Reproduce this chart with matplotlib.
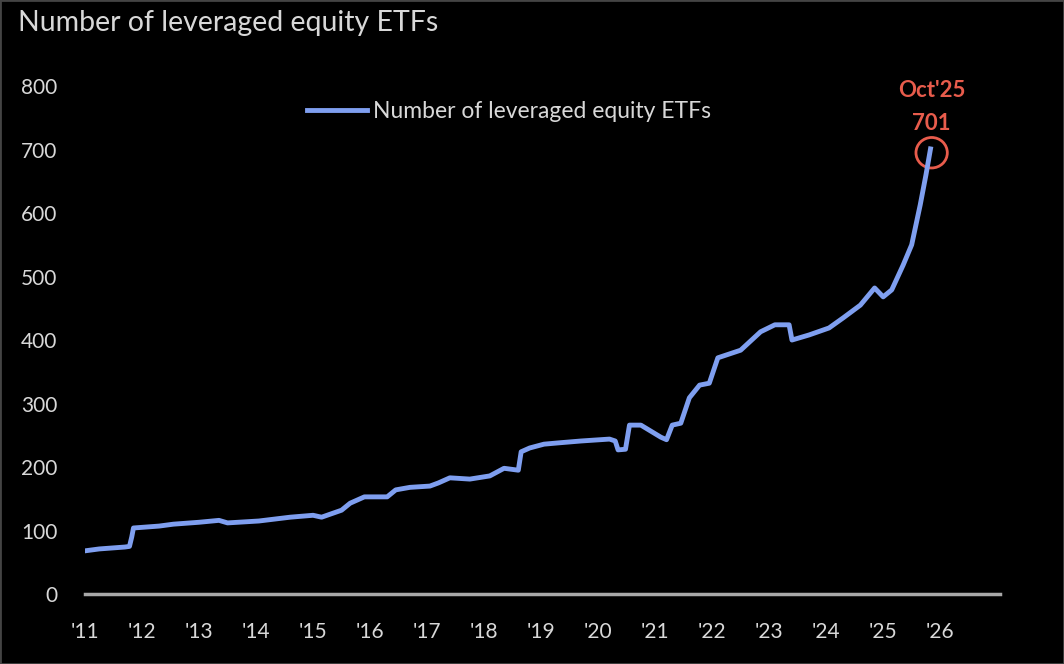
import matplotlib.pyplot as plt
from matplotlib.patches import Ellipse, Rectangle

# Dane (rok dziesiętny, liczba ETF)
lata = [2011.0, 2011.25, 2011.7, 2011.78, 2011.82, 2011.85, 2012.3, 2012.55, 2013.0,
        2013.35, 2013.5, 2014.05, 2014.6, 2015.0, 2015.15, 2015.5, 2015.65, 2015.9,
        2016.3, 2016.45, 2016.7, 2017.05, 2017.2, 2017.4, 2017.75, 2018.1, 2018.35,
        2018.6, 2018.65, 2018.8, 2019.05, 2019.3, 2019.7, 2020.2, 2020.3, 2020.35,
        2020.48, 2020.55, 2020.75, 2021.1, 2021.2, 2021.3, 2021.45, 2021.6, 2021.78,
        2021.95, 2022.1, 2022.5, 2022.85, 2023.1, 2023.35, 2023.4, 2023.7, 2024.05,
        2024.3, 2024.6, 2024.85, 2025.0, 2025.15, 2025.35, 2025.5, 2025.65, 2025.75,
        2025.83]
liczba_etf = [68, 71, 74, 75, 90, 104, 107, 110, 113,
              116, 112, 115, 121, 124, 121, 132, 143, 153,
              153, 164, 168, 170, 175, 183, 181, 186, 198,
              195, 224, 230, 236, 238, 241, 244, 241, 227,
              228, 266, 266, 247, 243, 266, 269, 309, 329,
              332, 372, 384, 413, 424, 424, 400, 408, 419,
              435, 455, 482, 468, 479, 518, 550, 613, 660,
              701]

etykiety_lat = ["'11", "'12", "'13", "'14", "'15", "'16", "'17", "'18",
                "'19", "'20", "'21", "'22", "'23", "'24", "'25", "'26"]
pozycje_lat = list(range(2011, 2027))
wartosci_y = [0, 100, 200, 300, 400, 500, 600, 700, 800]

kolor_linii = "#7f9ff0"
kolor_czerwony = "#e85c4c"
kolor_tekstu = "#d8d8d8"

plt.rcParams["font.family"] = ["Lato", "DejaVu Sans"]

fig = plt.figure(figsize=(10.64, 6.64), dpi=100, facecolor="black")
ax = fig.add_axes([0.0799, 0.1054, 0.86, 0.765])
ax.set_facecolor("black")

ax.plot(lata, liczba_etf, color=kolor_linii, linewidth=3.5,
        label="Number of leveraged equity ETFs", solid_joinstyle="round")

ax.set_xlim(2011, 2027.05)
ax.set_ylim(0, 800)
ax.set_xticks(pozycje_lat)
ax.set_xticklabels(etykiety_lat)
ax.set_yticks(wartosci_y)
ax.tick_params(axis="both", length=0, colors=kolor_tekstu, labelsize=15)
ax.tick_params(axis="y", pad=20)
ax.tick_params(axis="x", pad=20)

for s in ["top", "right", "left"]:
    ax.spines[s].set_visible(False)
ax.spines["bottom"].set_color("#a8a8a8")
ax.spines["bottom"].set_linewidth(2.5)

# okrąg i adnotacja ostatniej wartości
x_ost, y_ost = lata[-1], liczba_etf[-1]
okrag = Ellipse((x_ost + 0.02, y_ost - 6), width=0.55, height=48, fill=False,
                edgecolor=kolor_czerwony, linewidth=2)
ax.add_patch(okrag)
ax.annotate("701", (x_ost + 0.02, y_ost), xytext=(0, 18), textcoords="offset points",
            ha="center", va="center", color=kolor_czerwony, fontsize=16,
            fontweight="bold")
ax.annotate("Oct'25", (x_ost + 0.02, y_ost), xytext=(0, 42), textcoords="offset points",
            ha="center", va="center", color=kolor_czerwony, fontsize=16,
            fontweight="bold")

leg = ax.legend(loc="upper left", bbox_to_anchor=(0.22, 1.011), frameon=False,
                fontsize=16.5, handlelength=2.6, handletextpad=0.3)
for t in leg.get_texts():
    t.set_color(kolor_tekstu)

fig.text(0.017, 0.965, "Number of leveraged equity ETFs", color=kolor_tekstu,
         fontsize=20.5, ha="left", va="center")

fig.patches.append(Rectangle((0, 0), 1, 1, transform=fig.transFigure, fill=False,
                             edgecolor="#444444", linewidth=2))

fig.savefig("out.png", dpi=100, facecolor="black")
